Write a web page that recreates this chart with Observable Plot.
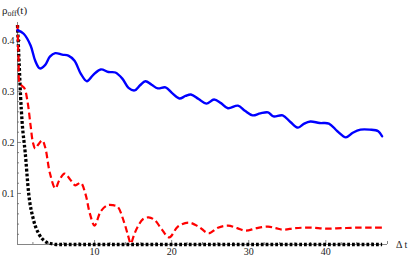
<!DOCTYPE html>
<html>
<head>
<meta charset="utf-8">
<script src="https://cdn.jsdelivr.net/npm/d3@7"></script>
<script src="https://cdn.jsdelivr.net/npm/@observablehq/plot@0.6"></script>
<style>
  html, body { margin: 0; padding: 0; background: #fff; }
  svg { display: block; }
</style>
</head>
<body>
<div id="chart"></div>
<script>
// ---- data ----
const blueT = [0, 0.8, 1.7, 2.3, 2.9, 3.6, 4.2, 4.9, 5.8, 6.6, 7.4, 8.2, 9, 9.8, 10.8, 11.8, 12.7, 13.6, 14.4, 15.2, 15.9, 16.6, 17.4, 18.2, 19.2, 20.1, 21, 21.8, 22.5, 23.5, 24.5, 25.5, 26.4, 27.3, 28.6, 29.5, 30.5, 31.5, 32.5, 33.2, 34.4, 35.4, 36.4, 37.2, 38, 39.2, 40.4, 41.5, 42.6, 43.5, 44.5, 45.7, 46.8, 47.3];
const blueV = [0.42, 0.413, 0.39, 0.36, 0.345, 0.352, 0.368, 0.375, 0.372, 0.37, 0.36, 0.335, 0.32, 0.332, 0.343, 0.338, 0.337, 0.325, 0.307, 0.302, 0.312, 0.32, 0.313, 0.306, 0.308, 0.296, 0.286, 0.291, 0.294, 0.285, 0.276, 0.284, 0.277, 0.267, 0.272, 0.262, 0.253, 0.257, 0.259, 0.251, 0.253, 0.24, 0.229, 0.237, 0.241, 0.238, 0.237, 0.222, 0.21, 0.219, 0.225, 0.225, 0.222, 0.212];

const redT = [0, 0.15, 0.3, 0.9, 1.3, 1.7, 2.0, 2.3, 2.7, 3.2, 3.6, 4.2, 4.9, 5.4, 6.1, 6.8, 7.5, 8.2, 8.8, 9.4, 10, 10.8, 11.7, 12.4, 13, 13.8, 14.3, 14.7, 15.1, 15.6, 16.3, 17, 17.8, 18.7, 19.7, 20.8, 22.2, 23.5, 24.8, 26, 27.3, 28.5, 29.6, 31, 32.5, 33.5, 34.5, 36, 38, 40, 42, 44, 46, 47.3];
const redV = [0.43, 0.36, 0.316, 0.306, 0.28, 0.233, 0.2, 0.188, 0.196, 0.204, 0.19, 0.14, 0.11, 0.125, 0.139, 0.128, 0.116, 0.121, 0.1, 0.06, 0.037, 0.065, 0.077, 0.077, 0.074, 0.045, 0.02, 0.002, 0.018, 0.035, 0.05, 0.053, 0.048, 0.03, 0.014, 0.035, 0.043, 0.035, 0.022, 0.033, 0.037, 0.032, 0.027, 0.032, 0.035, 0.032, 0.029, 0.032, 0.033, 0.031, 0.032, 0.033, 0.033, 0.033];

const blackT = [0, 0.2, 0.4, 0.6, 1.0, 1.45, 2.1, 2.8, 3.5, 4.3, 5, 8, 12, 16, 20, 25, 30, 35, 40, 45, 47.3];
const blackV = [0.43, 0.36, 0.29, 0.24, 0.18, 0.10, 0.047, 0.02, 0.007, 0.002, 0, 0, 0, 0, 0, 0, 0, 0, 0, 0, 0];

const xMajorTicks = [10, 20, 30, 40];
const xMinorTicks = d3.range(2, 48, 2).filter(v => v % 10 !== 0);
const yMajorTicks = [0.1, 0.2, 0.3, 0.4];
const yMinorTicks = d3.range(0.02, 0.43, 0.02).map(v => +v.toFixed(2)).filter(v => Math.abs(v * 10 - Math.round(v * 10)) > 1e-6);

const titleMain = "ρ";
const titleSub = "off";
const titleTail = "(t)";
const xLabel = "Δ t";

const toRows = (T, V) => T.map((t, i) => ({t, v: V[i]}));
const blue = toRows(blueT, blueV);
const red = toRows(redT, redV);
const black = toRows(blackT, blackV);

const font = "'Liberation Serif', 'DejaVu Serif', serif";

const plot = Plot.plot({
  width: 409,
  height: 258,
  marginLeft: 17,
  marginRight: 22,
  marginTop: 22,
  marginBottom: 14,
  style: {fontFamily: font, fontSize: "10px", background: "#fff", color: "#222"},
  x: {domain: [0, 48], label: null},
  y: {domain: [0, 0.435], label: null},
  marks: [
    Plot.ruleY([0], {stroke: "#666", strokeWidth: 0.8}),
    Plot.ruleX([0], {stroke: "#666", strokeWidth: 0.8}),
    Plot.axisX(xMajorTicks, {label: null, tickSize: -4, tickPadding: 7, stroke: "#666", strokeWidth: 0.8, fontSize: 10, fill: "#222"}),
    Plot.axisX(xMinorTicks, {label: null, tickSize: -2, text: null, stroke: "#666", strokeWidth: 0.8}),
    Plot.axisX([48], {label: null, tickSize: -3, text: null, stroke: "#666", strokeWidth: 0.8}),
    Plot.axisY(yMajorTicks, {label: null, tickSize: -4, tickPadding: 7, stroke: "#666", strokeWidth: 0.8, fontSize: 10, fill: "#222", tickFormat: d => d.toFixed(1)}),
    Plot.axisY(yMinorTicks, {label: null, tickSize: -2, text: null, stroke: "#666", strokeWidth: 0.8}),
    Plot.line(black, {x: "t", y: "v", stroke: "black", strokeWidth: 3.3, strokeDasharray: "2.8,2", strokeLinecap: "butt", strokeLinejoin: "miter", curve: "monotone-x"}),
    Plot.line(red, {x: "t", y: "v", stroke: "#ff0000", strokeWidth: 2.2, strokeDasharray: "6.5,3.5", strokeLinecap: "butt", curve: "catmull-rom"}),
    Plot.line(blue, {x: "t", y: "v", stroke: "#0000ff", strokeWidth: 2.4, curve: "catmull-rom"})
  ]
});

const svg = d3.select(plot);
const xs = plot.scale("x");
const ys = plot.scale("y");

// y-axis title with subscript
const title = svg.append("text")
  .attr("x", 2)
  .attr("y", 14)
  .attr("text-anchor", "start")
  .attr("font-family", font)
  .attr("font-size", 11)
  .attr("fill", "#222");
title.append("tspan").text(titleMain);
title.append("tspan").attr("font-size", 8).attr("dy", 2).text(titleSub);
title.append("tspan").attr("dy", -2).text(titleTail);

// x-axis label at the right end of the axis
svg.append("text")
  .attr("x", xs.apply(48) + 9)
  .attr("y", ys.apply(0))
  .attr("dy", "0.35em")
  .attr("text-anchor", "start")
  .attr("font-family", font)
  .attr("font-size", 10)
  .attr("fill", "#222")
  .text(xLabel);

document.getElementById("chart").appendChild(plot);
</script>
</body>
</html>
